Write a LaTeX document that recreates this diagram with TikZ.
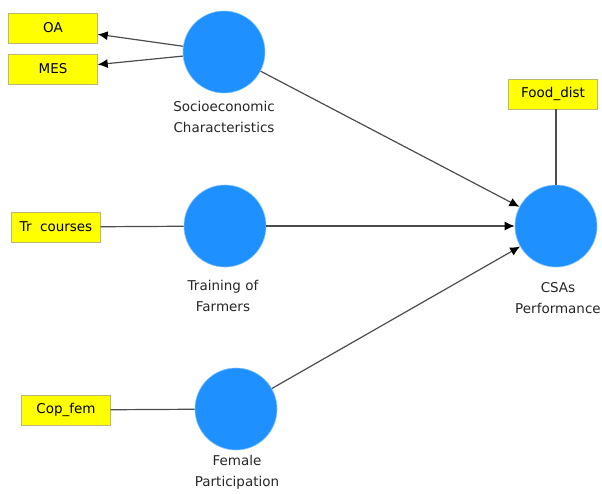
\documentclass[tikz,border=0pt]{standalone}
\usepackage{fontspec}
\setmainfont{DejaVu Sans}
\usetikzlibrary{arrows.meta}

\definecolor{lvblue}{RGB}{30,144,255}
\definecolor{mvyellow}{RGB}{255,255,0}

\begin{document}
\begin{tikzpicture}[x=1pt,y=-1pt,>={Latex[length=10pt,width=9pt,color=black]},
    latent/.style={circle,fill=lvblue,draw=lvblue!55,line width=0.6pt,minimum size=82pt,inner sep=0pt},
    manifest/.style={rectangle,fill=mvyellow,draw=gray!60!yellow,minimum width=89pt,minimum height=30pt,inner sep=0pt,font=\fontsize{13.5}{16}\selectfont},
    lbl/.style={align=center,text=black!85,font=\fontsize{13.5}{21}\selectfont},
    link/.style={draw=black!70,line width=1.2pt}]

        \useasboundingbox (0,0) rectangle (602,493);

        % Latent variables
        \node[latent] (socio) at (224,52) {};
        \node[latent] (train) at (225,226) {};
        \node[latent] (female) at (236,409) {};
        \node[latent] (csa) at (556,226) {};

        \node[lbl] (socioLbl) at (224,117) {Socioeconomic\\Characteristics};
        \node[lbl] (trainLbl) at (223,296) {Training of\\Farmers};
        \node[lbl] (femaleLbl) at (237,472) {Female\\Participation};
        \node[lbl] (csaLbl) at (558,298) {CSAs\\Performance};

        % Indicators
        \node[manifest] (oa) at (53,28) {OA};
        \node[manifest] (mes) at (53,69) {MES};
        \node[manifest] (trc) at (56,227) {Tr\ \ courses};
        \node[manifest] (cop) at (66,410) {Cop\_fem};
        \node[manifest] (food) at (553,94) {Food\_dist};

        % Outer model
        \draw[link,->] (socio) -- (oa);
        \draw[link,->] (socio) -- (mes);
        \draw[link] (train) -- (trc);
        \draw[link] (female) -- (cop);
        \draw[link] (csa.north) -- (csa.north |- food.south);

        % Inner model
        \draw[link,->] (socio) -- (csa);
        \draw[link,->] (train) -- (csa);
        \draw[link,->] (female) -- (csa);

    \end{tikzpicture}
\end{document}
